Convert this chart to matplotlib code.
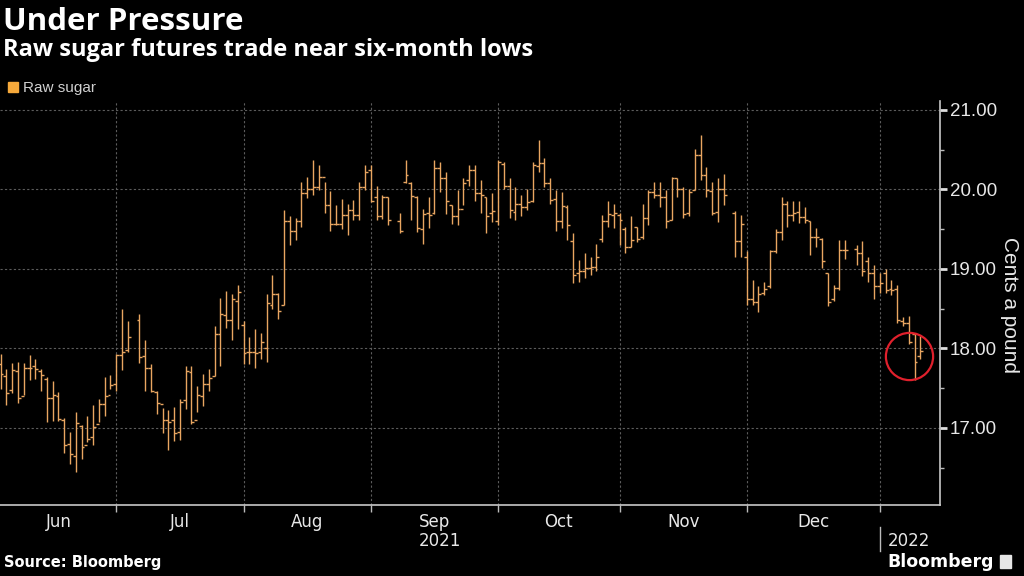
import numpy as np
import pandas as pd
import matplotlib
matplotlib.use('Agg')
import matplotlib.pyplot as plt
from matplotlib.patches import Patch, Rectangle

nan = np.nan

# trading days (holidays left empty): Jun 2, 2021 .. Jan 11, 2022
dates = pd.bdate_range('2021-06-02', '2022-01-11')

# raw sugar futures, cents a pound
opens = [17.80, 17.65, 17.48, 17.72, 17.40, 17.75, 17.78, 17.72, 17.62, 17.38,
         17.40, 17.10, 16.80, 16.65, 17.02, 16.78, 16.88, 17.05, 17.30, 17.42,
         17.55, 17.92, 17.98, nan, 18.36, 17.90, 17.75, 17.45, 17.30, 17.10,
         17.10, 16.95, 17.35, 17.70, 17.10, 17.40, 17.55, 17.65, 18.18, 18.42,
         18.36, 18.60, 18.30, 17.95, 17.95, 17.95, 18.00, 18.55, 18.68, 18.55,
         19.60, 19.48, 19.60, 19.96, 20.00, 20.03, 20.16, 19.80, 19.57, 19.57,
         19.68, 19.74, 19.68, 20.03, 20.25, 19.90, 19.67, 19.90, nan, 19.60,
         20.10, 20.08, 19.90, 19.50, 19.70, 19.70, 20.27, 20.14, 19.80, 19.67,
         19.76, 20.12, 20.25, 19.95, 19.90, 19.70, 19.60, 20.32, 20.05, 19.72,
         19.82, 19.78, 19.86, 20.30, 20.33, 20.08, 19.88, 19.60, 19.78, 19.35,
         18.95, 18.97, 19.01, 19.03, 19.38, 19.60, 19.68, 19.68, 19.50, 19.28,
         19.53, 19.40, 19.64, 19.97, 19.93, 19.90, 19.62, 20.14, 20.00, 19.70,
         19.99, 20.44, 20.18, 19.98, 19.72, 20.00, nan, 19.70, 19.35, 19.15,
         18.62, 18.58, 18.70, 18.78, 19.22, 19.46, 19.82, 19.68, 19.72, 19.65,
         19.60, 19.40, 19.38, 18.95, 18.62, 18.76, 19.24, nan, 19.25, 19.20,
         19.10, 18.95, 18.78, 18.95, 18.75, 18.75, 18.35, 18.32, 18.18, 17.90]
highs = [17.93, 17.74, 17.82, 17.83, 17.82, 17.92, 17.87, 17.74, 17.64, 17.59,
         17.45, 17.13, 16.95, 17.20, 17.04, 17.15, 17.29, 17.37, 17.64, 17.67,
         17.93, 18.49, 18.35, nan, 18.43, 18.10, 17.80, 17.47, 17.25, 17.22,
         17.26, 17.37, 17.78, 17.78, 17.53, 17.68, 17.74, 18.28, 18.64, 18.72,
         18.69, 18.80, 18.35, 18.14, 18.24, 18.20, 18.69, 18.92, 18.70, 19.74,
         19.67, 19.64, 20.10, 20.16, 20.37, 20.31, 20.10, 19.98, 19.80, 19.88,
         19.82, 19.87, 20.10, 20.31, 20.31, 20.05, 19.93, 19.91, nan, 19.71,
         20.37, 20.10, 19.92, 19.76, 19.90, 20.37, 20.35, 20.22, 19.81, 19.99,
         20.15, 20.31, 20.31, 20.12, 19.91, 19.95, 20.37, 20.35, 20.14, 20.03,
         19.93, 20.01, 20.35, 20.62, 20.39, 20.14, 19.99, 19.97, 19.80, 19.45,
         19.11, 19.20, 19.15, 19.32, 19.68, 19.85, 19.82, 19.70, 19.53, 19.66,
         19.53, 19.82, 19.99, 20.10, 20.10, 19.99, 20.16, 20.14, 20.03, 20.01,
         20.51, 20.69, 20.28, 20.10, 20.15, 20.19, nan, 19.73, 19.68, 19.22,
         18.86, 18.78, 18.84, 19.24, 19.50, 19.90, 19.85, 19.85, 19.85, 19.78,
         19.60, 19.51, 19.39, 18.95, 18.80, 19.37, 19.37, nan, 19.30, 19.35,
         19.15, 19.05, 18.95, 19.00, 18.86, 18.80, 18.40, 18.41, 18.20, 18.16]
lows = [17.49, 17.29, 17.44, 17.31, 17.41, 17.60, 17.62, 17.47, 17.08, 17.09,
        17.09, 16.69, 16.55, 16.44, 16.61, 16.82, 16.78, 17.07, 17.15, 17.49,
        17.47, 17.73, 17.95, nan, 17.82, 17.46, 17.45, 17.17, 16.94, 16.72,
        16.83, 16.85, 17.24, 17.05, 17.20, 17.28, 17.47, 17.65, 17.78, 18.26,
        18.10, 18.24, 17.80, 17.80, 17.75, 17.87, 17.83, 18.50, 18.37, 18.55,
        19.30, 19.37, 19.53, 19.89, 19.93, 19.99, 19.71, 19.48, 19.55, 19.50,
        19.43, 19.61, 19.61, 19.99, 19.84, 19.61, 19.63, 19.55, nan, 19.45,
        20.08, 19.61, 19.47, 19.31, 19.51, 19.69, 19.97, 19.69, 19.56, 19.55,
        19.80, 20.05, 19.85, 19.70, 19.45, 19.59, 19.55, 20.01, 19.64, 19.62,
        19.66, 19.74, 19.84, 20.22, 20.03, 19.82, 19.48, 19.51, 19.36, 18.82,
        18.84, 18.88, 18.92, 18.97, 19.34, 19.53, 19.51, 19.30, 19.20, 19.28,
        19.34, 19.38, 19.55, 19.89, 19.78, 19.51, 19.62, 19.91, 19.64, 19.66,
        19.99, 20.12, 19.90, 19.68, 19.59, 19.80, nan, 19.15, 19.15, 18.55,
        18.55, 18.46, 18.67, 18.76, 19.20, 19.36, 19.53, 19.60, 19.58, 19.58,
        19.18, 19.28, 19.01, 18.53, 18.60, 18.74, 19.12, nan, 19.05, 18.91,
        18.84, 18.62, 18.70, 18.70, 18.67, 18.32, 18.28, 18.05, 17.60, 17.87]
closes = [17.68, 17.44, 17.73, 17.38, 17.76, 17.76, 17.74, 17.67, 17.38, 17.41,
          17.11, 16.78, 16.67, 17.06, 16.76, 16.86, 17.01, 17.30, 17.40, 17.54,
          17.92, 17.95, 18.15, nan, 17.89, 17.76, 17.47, 17.31, 17.10, 17.08,
          16.93, 17.33, 17.71, 17.08, 17.41, 17.55, 17.63, 18.18, 18.43, 18.36,
          18.62, 18.71, 17.94, 17.95, 17.94, 18.08, 18.57, 18.68, 18.47, 19.60,
          19.48, 19.60, 19.96, 20.01, 20.03, 20.16, 19.80, 19.57, 19.57, 19.68,
          19.74, 19.68, 20.03, 20.22, 19.86, 19.67, 19.91, 19.61, nan, 19.48,
          20.18, 19.92, 19.51, 19.69, 19.68, 20.27, 20.14, 19.85, 19.67, 19.75,
          20.08, 20.25, 19.95, 19.93, 19.67, 19.73, 20.34, 20.05, 19.74, 19.82,
          19.78, 19.84, 20.31, 20.33, 20.08, 19.87, 19.60, 19.79, 19.55, 18.92,
          18.97, 19.01, 19.03, 19.15, 19.60, 19.69, 19.70, 19.62, 19.27, 19.36,
          19.38, 19.64, 19.97, 19.93, 19.91, 19.60, 20.14, 20.01, 19.69, 19.97,
          20.44, 20.18, 19.99, 19.70, 20.00, 19.93, nan, 19.35, 19.56, 18.62,
          18.58, 18.69, 18.75, 19.22, 19.46, 19.82, 19.68, 19.71, 19.65, 19.62,
          19.40, 19.40, 19.10, 18.58, 18.76, 19.24, 19.24, nan, 19.20, 18.97,
          18.95, 18.78, 18.82, 18.74, 18.74, 18.36, 18.32, 18.08, 17.83, 17.97]

month_names = ['Jun', 'Jul', 'Aug', 'Sep', 'Oct', 'Nov', 'Dec']
y_ticks = [17, 18, 19, 20, 21]

BAR = '#e9a661'
LEG = '#f6a93b'
GRID = '#5c5c5c'
TXT = '#e8e8e8'
NARROW = ['DejaVu Sans']
SANS = ['Liberation Sans', 'DejaVu Sans']
HEAD = ['Open Sans', 'DejaVu Sans']

x = np.arange(len(dates))
o, h, l, c = (np.array(a, dtype=float) for a in (opens, highs, lows, closes))

fig = plt.figure(figsize=(10.24, 5.76), dpi=100, facecolor='black')
ax = fig.add_axes([0, 1 - 505 / 576, 940 / 1024, (505 - 100.7) / 576])
ax.set_facecolor('black')

# OHLC bars
w = 0.5
ax.vlines(x, l, h, color=BAR, lw=1.0, zorder=3)
ax.hlines(o, x - w, x, color=BAR, lw=1.0, zorder=3)
ax.hlines(c, x, x + w, color=BAR, lw=1.0, zorder=3)

ax.set_xlim(-0.1, 162.4)
ax.set_ylim(16.03, 21.117)

# month boundaries = last trading day of each month
months = dates.to_period('M')
month_end = [int(np.where(months == m)[0][-1]) for m in months.unique()[:-1]]
bounds = [0] + month_end
centers = [(bounds[i] + bounds[i + 1]) / 2 for i in range(len(month_end))]

ax.set_xticks(month_end)
ax.set_xticklabels([])
ax.set_xticks(centers, minor=True)
ax.set_xticklabels(month_names, minor=True, family=NARROW, fontsize=12, color=TXT)
ax.tick_params(axis='x', which='major', direction='out', length=5, width=1, color='#bbbbbb')
ax.tick_params(axis='x', which='minor', length=0, pad=6)
for xm in month_end:
    ax.axvline(xm, color=GRID, lw=0.8, ls=(0, (2, 2)), zorder=1)

ax.yaxis.tick_right()
ax.set_yticks(y_ticks)
ax.set_yticklabels([f'{v:.2f}' for v in y_ticks], family=SANS, fontsize=13.5, color=TXT)
ax.set_yticks(np.arange(16.5, 21.2, 1.0), minor=True)
ax.tick_params(axis='y', which='major', direction='out', length=5, width=2, color='#dddddd', pad=2)
ax.tick_params(axis='y', which='minor', direction='out', length=3, width=1, color='#bbbbbb')
for yv in y_ticks:
    ax.axhline(yv, color=GRID, lw=0.8, ls=(0, (2, 2)), zorder=1)

for s in ('left', 'top'):
    ax.spines[s].set_visible(False)
for s in ('right', 'bottom'):
    ax.spines[s].set_color('#c8c8c8')
    ax.spines[s].set_linewidth(1.2)

# year labels under the month axis
yr_trans = ax.get_xaxis_transform()
ax.text((0 + month_end[-1]) / 2, -0.09, '2021', transform=yr_trans, ha='center', va='center',
        family=NARROW, fontsize=12, color=TXT, clip_on=False)
ax.text(month_end[-1] + 1.3, -0.09, '2022', transform=yr_trans, ha='left', va='center',
        family=NARROW, fontsize=12, color=TXT, clip_on=False)
ax.plot([month_end[-1], month_end[-1]], [-0.055, -0.115], transform=yr_trans,
        color='#bbbbbb', lw=1, clip_on=False)

# red circle around the latest prices
ax.plot(x[-5:].mean() + 0.1, (np.nanmin(l[-3:]) + np.nanmax(h[-2:])) / 2, marker='o',
        markersize=34, mfc='none', mec='#e0202c', mew=1.6, zorder=4, clip_on=False)

# titles, legend, axis title, footer
fig.text(0.003, 1 - 30 / 576, 'Under Pressure', color='white', fontsize=22.5,
         fontweight='bold', family=HEAD, va='baseline')
fig.text(0.003, 1 - 56 / 576, 'Raw sugar futures trade near six-month lows', color='white',
         fontsize=17, fontweight='bold', family=HEAD, va='baseline')
fig.legend(handles=[Patch(color=LEG, label='Raw sugar')], loc='upper left',
           bbox_to_anchor=(5 / 1024, 1 - 78 / 576), frameon=False, handlelength=0.65,
           handleheight=0.65, handletextpad=0.35, borderaxespad=0, borderpad=0.2,
           labelcolor='#d0d0d0', prop={'family': SANS, 'size': 11})
fig.text(1010 / 1024, 1 - 305 / 576, 'Cents a pound', rotation=270, ha='center', va='center',
         color=TXT, fontsize=15, family=SANS)
fig.text(0.004, 1 - 563 / 576, 'Source: Bloomberg', color='white', fontsize=10.5,
         fontweight='bold', family=NARROW, va='center')
fig.text(994 / 1024, 1 - 562 / 576, 'Bloomberg', color='white', fontsize=12.5,
         fontweight='bold', family=NARROW, ha='right', va='center')
fig.patches.append(Rectangle((1000 / 1024, 1 - 568 / 576), 11 / 1024, 13 / 576,
                             transform=fig.transFigure, color='#e6e6e6', figure=fig))

fig.savefig('out.png', dpi=100, facecolor='black')
